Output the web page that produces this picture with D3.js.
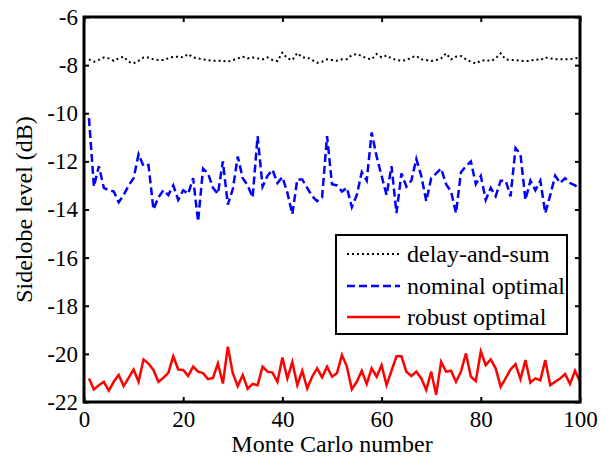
<!DOCTYPE html>
<html>
<head>
<meta charset="utf-8">
<script src="https://cdn.jsdelivr.net/npm/d3@7"></script>
<style>
svg text { font-family: 'Liberation Serif', 'Times New Roman', Tinos !important; }
</style>
</head>
<body style="margin:0">
<script>
// Monte Carlo runs 1..100
var runs = d3.range(1, 101);

var delaySum = [-7.76,-7.86,-7.78,-7.68,-7.72,-7.82,-7.72,-7.65,-7.86,-7.93,
	-7.82,-7.68,-7.68,-7.76,-7.79,-7.79,-7.72,-7.65,-7.65,-7.68,
	-7.54,-7.68,-7.72,-7.76,-7.79,-7.82,-7.82,-7.82,-7.86,-7.79,
	-7.72,-7.65,-7.72,-7.68,-7.72,-7.76,-7.68,-7.79,-7.83,-7.48,
	-7.72,-7.79,-7.50,-7.68,-7.68,-7.79,-7.90,-7.86,-7.76,-7.79,
	-7.82,-7.76,-7.76,-7.58,-7.54,-7.62,-7.72,-7.76,-7.54,-7.68,
	-7.60,-7.72,-7.79,-7.82,-7.79,-7.68,-7.62,-7.76,-7.79,-7.83,
	-7.79,-7.72,-7.51,-7.76,-7.65,-7.62,-7.76,-7.86,-7.93,-7.82,
	-7.79,-7.83,-7.72,-7.51,-7.76,-7.79,-7.79,-7.82,-7.83,-7.82,
	-7.76,-7.79,-7.68,-7.72,-7.76,-7.76,-7.76,-7.76,-7.72,-7.68];

var nominal = [-10.2,-13.05,-12.2,-13.1,-13.2,-13.25,-13.7,-13.4,-13.0,-12.7,
	-11.7,-12.2,-12.15,-14.0,-13.5,-13.2,-13.4,-13.0,-13.6,-13.2,
	-13.35,-12.7,-14.5,-12.3,-12.5,-13.1,-13.35,-12.0,-13.8,-13.15,
	-11.8,-12.7,-13.0,-13.5,-10.95,-13.05,-12.6,-12.35,-12.9,-12.65,
	-13.3,-14.2,-12.75,-12.75,-13.1,-13.45,-13.65,-13.5,-10.95,-12.95,
	-13.0,-13.25,-13.1,-13.9,-13.4,-12.45,-12.8,-10.8,-11.8,-12.6,
	-13.4,-12.2,-14.15,-12.5,-13.05,-12.8,-11.9,-12.6,-13.65,-12.7,
	-12.5,-12.3,-12.95,-13.25,-14.15,-12.45,-12.2,-12.0,-12.95,-12.6,
	-13.6,-13.1,-13.45,-12.8,-12.8,-13.45,-11.45,-11.7,-13.6,-12.8,
	-13.2,-12.8,-14.15,-13.4,-12.6,-12.9,-12.7,-12.9,-13.0,-13.15];

var robust = [-21.02,-21.48,-21.3,-21.16,-21.53,-21.16,-20.88,-21.34,-21.0,-20.65,
	-21.16,-20.23,-20.4,-20.67,-21.16,-21.0,-20.79,-20.1,-20.65,-20.67,
	-20.92,-20.53,-20.74,-20.8,-21.05,-21.0,-20.4,-21.23,-19.7,-20.8,
	-21.34,-20.88,-21.45,-21.25,-21.3,-20.53,-20.74,-20.78,-21.16,-20.15,
	-21.02,-20.34,-21.3,-20.7,-21.44,-20.95,-20.6,-20.98,-20.53,-20.95,
	-20.8,-20.05,-20.53,-21.47,-21.16,-20.7,-21.25,-20.6,-20.95,-20.47,
	-21.3,-20.7,-20.1,-20.1,-20.74,-20.92,-20.74,-21.02,-21.5,-20.74,
	-21.7,-20.33,-20.74,-20.7,-21.16,-20.74,-19.98,-20.95,-21.13,-19.9,
	-20.47,-20.23,-20.6,-21.37,-21.02,-20.65,-20.43,-21.05,-20.26,-21.2,
	-21.02,-21.1,-20.26,-21.3,-21.16,-21.02,-20.84,-21.25,-20.7,-21.16];

var xTicks = [0, 20, 40, 60, 80, 100];
var yTicks = [-22, -20, -18, -16, -14, -12, -10, -8, -6];
var seriesNames = ['delay-and-sum', 'nominal optimal', 'robust optimal'];

var width = 611, height = 459;
var margin = {top: 17, right: 31, bottom: 57, left: 84};
var serif = 'Liberation Serif';

var svg = d3.select('body').append('svg')
	.attr('width', width)
	.attr('height', height)
	.attr('font-family', serif);

var xScale = d3.scaleLinear()
	.domain([0, 100])
	.range([margin.left, width - margin.right]);
var yScale = d3.scaleLinear()
	.domain([-22, -6])
	.range([height - margin.bottom, margin.top]);

var series = [
	{name: seriesNames[0], values: delaySum, color: '#000', dash: '2,3', w: 2},
	{name: seriesNames[1], values: nominal, color: '#0000ff', dash: '8,4', w: 2.5},
	{name: seriesNames[2], values: robust, color: '#ff0000', dash: null, w: 2.5}
];

var line = d3.line()
	.x(function(d, i) { return xScale(runs[i]); })
	.y(function(d) { return yScale(d); });

series.forEach(function(s) {
	svg.append('path')
		.datum(s.values)
		.attr('fill', 'none')
		.attr('stroke', s.color)
		.attr('stroke-width', s.w)
		.attr('stroke-dasharray', s.dash)
		.attr('d', line);
});

// axes, ticks pointing inward on all four sides
var fmt = function(d) { return String(d); };
var plotH = height - margin.top - margin.bottom;
var plotW = width - margin.left - margin.right;

var xAxis = svg.append('g')
	.attr('transform', 'translate(0,' + (height - margin.bottom) + ')')
	.call(d3.axisBottom(xScale).tickValues(xTicks).tickFormat(fmt).tickSizeInner(-5).tickSizeOuter(0).tickPadding(12));
var xTop = svg.append('g')
	.attr('transform', 'translate(0,' + margin.top + ')')
	.call(d3.axisTop(xScale).tickValues(xTicks).tickFormat('').tickSizeInner(-5).tickSizeOuter(0));
var yAxis = svg.append('g')
	.attr('transform', 'translate(' + margin.left + ',0)')
	.call(d3.axisLeft(yScale).tickValues(yTicks).tickFormat(fmt).tickSizeInner(-5).tickSizeOuter(0).tickPadding(6));
var yRight = svg.append('g')
	.attr('transform', 'translate(' + (width - margin.right) + ',0)')
	.call(d3.axisRight(yScale).tickValues(yTicks).tickFormat('').tickSizeInner(-5).tickSizeOuter(0));

svg.selectAll('g').attr('font-family', serif);
svg.selectAll('.domain').remove();
svg.selectAll('.tick line').attr('stroke', '#000').attr('stroke-width', 2);
svg.selectAll('.tick text')
	.attr('fill', '#000')
	.attr('font-family', serif)
	.style('font-size', '23px');
xAxis.selectAll('.tick text').attr('dy', '0.71em').attr('y', 9);

svg.append('rect')
	.attr('x', margin.left)
	.attr('y', margin.top)
	.attr('width', plotW)
	.attr('height', plotH)
	.attr('fill', 'none')
	.attr('stroke', '#000')
	.attr('stroke-width', 3);

svg.append('text')
	.text('Monte Carlo number')
	.attr('x', margin.left + plotW / 2)
	.attr('y', 452)
	.attr('text-anchor', 'middle')
	.attr('font-family', serif)
	.style('font-size', '24px');

svg.append('text')
	.text('Sidelobe level (dB)')
	.attr('transform', 'translate(32,' + (margin.top + plotH / 2) + ') rotate(-90)')
	.attr('text-anchor', 'middle')
	.attr('font-family', serif)
	.style('font-size', '24px');

// legend
var legend = svg.append('g');
legend.append('rect')
	.attr('x', 336)
	.attr('y', 235)
	.attr('width', 231)
	.attr('height', 99)
	.attr('fill', '#fff')
	.attr('stroke', '#000')
	.attr('stroke-width', 2);

var rowY = [254, 286, 317];
series.forEach(function(s, i) {
	legend.append('line')
		.attr('x1', 347).attr('x2', 400)
		.attr('y1', rowY[i]).attr('y2', rowY[i])
		.attr('stroke', s.color)
		.attr('stroke-width', s.w)
		.attr('stroke-dasharray', s.dash);
	legend.append('text')
		.text(s.name)
		.attr('x', 407)
		.attr('y', rowY[i] + 8)
		.attr('font-family', serif)
		.style('font-size', '24px');
});
</script>
</body>
</html>
